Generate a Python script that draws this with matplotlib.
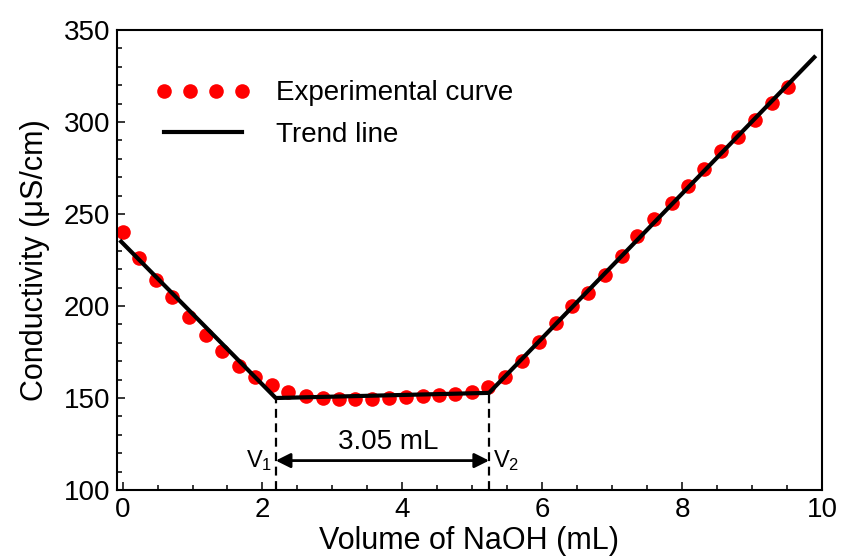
import numpy as np
import matplotlib
matplotlib.use("Agg")
import matplotlib.pyplot as plt
from matplotlib.ticker import MultipleLocator

plt.rcParams['font.family'] = ['Liberation Sans', 'DejaVu Sans']
plt.rcParams['mathtext.fontset'] = 'custom'
plt.rcParams['mathtext.rm'] = 'Liberation Sans'
plt.rcParams['mathtext.it'] = 'Liberation Sans'

# experimental points
volume = [0.00, 0.24, 0.48, 0.71, 0.95, 1.19, 1.42, 1.66, 1.90, 2.14, 2.36,
          2.62, 2.86, 3.10, 3.33, 3.57, 3.81, 4.05, 4.29, 4.53, 4.76, 5.00,
          5.22, 5.47, 5.71, 5.95, 6.19, 6.42, 6.66, 6.90, 7.14, 7.36, 7.60,
          7.85, 8.09, 8.32, 8.56, 8.80, 9.04, 9.28, 9.51]
conductivity = [240, 226, 214, 205, 194, 184, 175.5, 167.5, 161.5, 157, 153.4,
                151.1, 149.8, 149.3, 149.3, 149.5, 150.2, 150.7, 151.3, 151.6, 152.2, 153.1,
                155.8, 161.2, 170.3, 180.3, 190.6, 200.0, 206.9, 216.8, 227.2, 238.2, 247.3,
                256.1, 265.4, 274.3, 284.2, 292.0, 301.1, 310.2, 319.2]

# trend line break points
trend_x = [-0.02, 2.19, 5.24, 9.89]
trend_y = [235, 150, 152.8, 335.2]

V1, V2 = 2.19, 5.24
arrow_y = 116

fig = plt.figure(figsize=(8.41, 5.59), dpi=100)
ax = fig.add_axes([0.1391, 0.1234, 0.8383, 0.8229])

ax.plot(volume, conductivity, 'o', color='red', markersize=10.5, markeredgewidth=0,
        label='Experimental curve', zorder=2)
ax.plot(trend_x, trend_y, '-', color='black', lw=3, label='Trend line', zorder=3)

# equivalence points
for v, yv in [(V1, trend_y[1]), (V2, trend_y[2])]:
    ax.plot([v, v], [100, yv], color='black', lw=1.6, linestyle=(0, (4, 2.5)), zorder=3)

ax.annotate('', xy=(V1, arrow_y), xytext=(V2, arrow_y),
            arrowprops=dict(arrowstyle='<|-|>', color='black', lw=2,
                            mutation_scale=22, shrinkA=0, shrinkB=0))
ax.text((V1 + V2) / 2 + 0.08, arrow_y + 3, '3.05 mL', fontsize=20, ha='center', va='bottom')
ax.text(V1 - 0.05, arrow_y, 'V$_1$', fontsize=17, ha='right', va='center')
ax.text(V2 + 0.05, arrow_y, 'V$_2$', fontsize=17, ha='left', va='center')

ax.set_xlim(-0.08, 10)
ax.set_ylim(100, 350)
ax.xaxis.set_major_locator(MultipleLocator(2))
ax.xaxis.set_minor_locator(MultipleLocator(0.5))
ax.yaxis.set_major_locator(MultipleLocator(50))
ax.yaxis.set_minor_locator(MultipleLocator(10))
ax.tick_params(which='both', direction='in', top=False, right=False, width=1.1)
ax.tick_params(which='major', length=6, labelsize=20, pad=5)
ax.tick_params(which='minor', length=3.6)
for s in ax.spines.values():
    s.set_linewidth(1.5)

ax.set_xlabel('Volume of NaOH (mL)', fontsize=22, labelpad=2)
ax.set_ylabel('Conductivity (μS/cm)', fontsize=22, labelpad=10)

ax.legend(loc='upper left', bbox_to_anchor=(0.02, 0.945), frameon=False, numpoints=4,
          handlelength=3.4, fontsize=20, handletextpad=0.9, labelspacing=0.55)

fig.savefig('out.png', dpi=100)
